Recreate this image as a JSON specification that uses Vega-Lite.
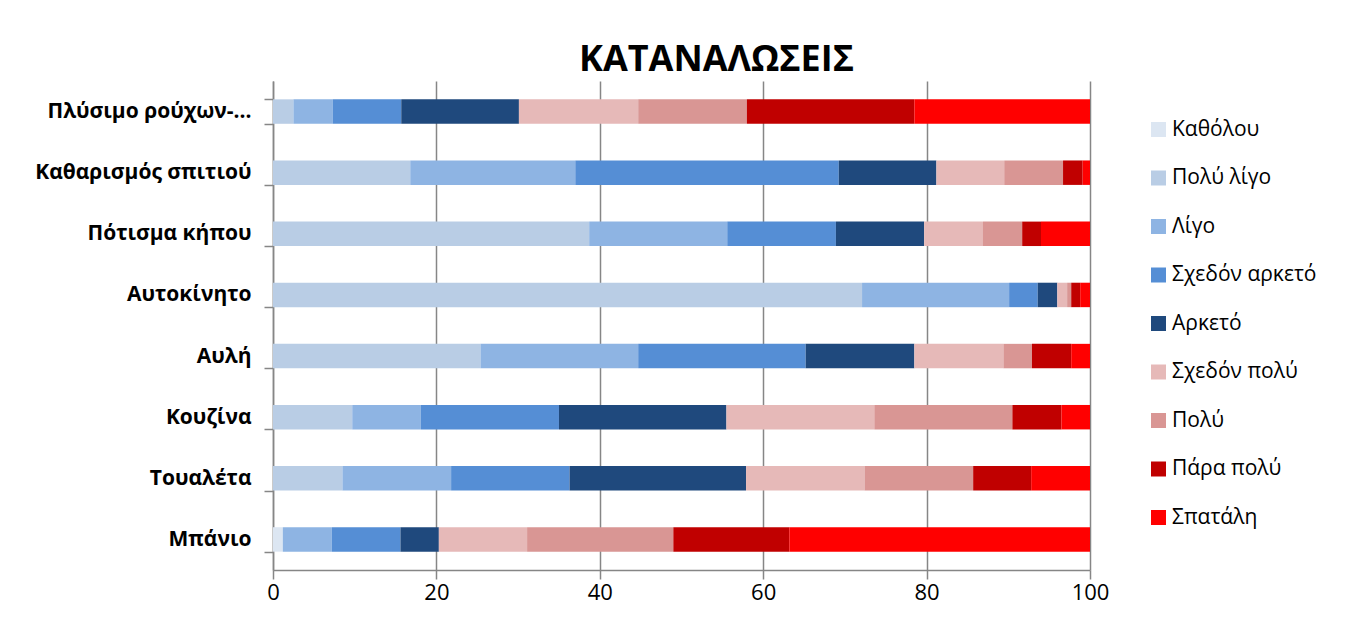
{
  "$schema": "https://vega.github.io/schema/vega-lite/v6.json",
  "width": 817,
  "height": 489,
  "autosize": {"type": "none"},
  "padding": {"left": 273, "top": 81, "right": 270, "bottom": 58},
  "background": "white",
  "title": {
    "text": "ΚΑΤΑΝΑΛΩΣΕΙΣ",
    "font": "Open Sans",
    "fontSize": 36,
    "fontWeight": "bold",
    "color": "#000000",
    "anchor": "middle",
    "dx": 35,
    "offset": -9
  },
  "config": {
    "view": {"stroke": null},
    "font": "Open Sans"
  },
  "data": {
    "values": [
      {"cat": "Πλύσιμο ρούχων-...", "level": "Καθόλου", "v": 0},
      {"cat": "Πλύσιμο ρούχων-...", "level": "Πολύ λίγο", "v": 2.5},
      {"cat": "Πλύσιμο ρούχων-...", "level": "Λίγο", "v": 4.8},
      {"cat": "Πλύσιμο ρούχων-...", "level": "Σχεδόν αρκετό", "v": 8.4},
      {"cat": "Πλύσιμο ρούχων-...", "level": "Αρκετό", "v": 14.4},
      {"cat": "Πλύσιμο ρούχων-...", "level": "Σχεδόν πολύ", "v": 14.6},
      {"cat": "Πλύσιμο ρούχων-...", "level": "Πολύ", "v": 13.3},
      {"cat": "Πλύσιμο ρούχων-...", "level": "Πάρα πολύ", "v": 20.5},
      {"cat": "Πλύσιμο ρούχων-...", "level": "Σπατάλη", "v": 21.5},

      {"cat": "Καθαρισμός σπιτιού", "level": "Καθόλου", "v": 0},
      {"cat": "Καθαρισμός σπιτιού", "level": "Πολύ λίγο", "v": 16.8},
      {"cat": "Καθαρισμός σπιτιού", "level": "Λίγο", "v": 20.2},
      {"cat": "Καθαρισμός σπιτιού", "level": "Σχεδόν αρκετό", "v": 32.25},
      {"cat": "Καθαρισμός σπιτιού", "level": "Αρκετό", "v": 11.95},
      {"cat": "Καθαρισμός σπιτιού", "level": "Σχεδόν πολύ", "v": 8.3},
      {"cat": "Καθαρισμός σπιτιού", "level": "Πολύ", "v": 7.2},
      {"cat": "Καθαρισμός σπιτιού", "level": "Πάρα πολύ", "v": 2.4},
      {"cat": "Καθαρισμός σπιτιού", "level": "Σπατάλη", "v": 0.9},

      {"cat": "Πότισμα κήπου", "level": "Καθόλου", "v": 0},
      {"cat": "Πότισμα κήπου", "level": "Πολύ λίγο", "v": 38.7},
      {"cat": "Πότισμα κήπου", "level": "Λίγο", "v": 16.9},
      {"cat": "Πότισμα κήπου", "level": "Σχεδόν αρκετό", "v": 13.3},
      {"cat": "Πότισμα κήπου", "level": "Αρκετό", "v": 10.8},
      {"cat": "Πότισμα κήπου", "level": "Σχεδόν πολύ", "v": 7.2},
      {"cat": "Πότισμα κήπου", "level": "Πολύ", "v": 4.8},
      {"cat": "Πότισμα κήπου", "level": "Πάρα πολύ", "v": 2.3},
      {"cat": "Πότισμα κήπου", "level": "Σπατάλη", "v": 6.0},

      {"cat": "Αυτοκίνητο", "level": "Καθόλου", "v": 0},
      {"cat": "Αυτοκίνητο", "level": "Πολύ λίγο", "v": 72.1},
      {"cat": "Αυτοκίνητο", "level": "Λίγο", "v": 18.0},
      {"cat": "Αυτοκίνητο", "level": "Σχεδόν αρκετό", "v": 3.5},
      {"cat": "Αυτοκίνητο", "level": "Αρκετό", "v": 2.4},
      {"cat": "Αυτοκίνητο", "level": "Σχεδόν πολύ", "v": 1.2},
      {"cat": "Αυτοκίνητο", "level": "Πολύ", "v": 0.5},
      {"cat": "Αυτοκίνητο", "level": "Πάρα πολύ", "v": 1.1},
      {"cat": "Αυτοκίνητο", "level": "Σπατάλη", "v": 1.2},

      {"cat": "Αυλή", "level": "Καθόλου", "v": 0},
      {"cat": "Αυλή", "level": "Πολύ λίγο", "v": 25.4},
      {"cat": "Αυλή", "level": "Λίγο", "v": 19.3},
      {"cat": "Αυλή", "level": "Σχεδόν αρκετό", "v": 20.5},
      {"cat": "Αυλή", "level": "Αρκετό", "v": 13.3},
      {"cat": "Αυλή", "level": "Σχεδόν πολύ", "v": 10.9},
      {"cat": "Αυλή", "level": "Πολύ", "v": 3.5},
      {"cat": "Αυλή", "level": "Πάρα πολύ", "v": 4.8},
      {"cat": "Αυλή", "level": "Σπατάλη", "v": 2.3},

      {"cat": "Κουζίνα", "level": "Καθόλου", "v": 0},
      {"cat": "Κουζίνα", "level": "Πολύ λίγο", "v": 9.7},
      {"cat": "Κουζίνα", "level": "Λίγο", "v": 8.4},
      {"cat": "Κουζίνα", "level": "Σχεδόν αρκετό", "v": 16.9},
      {"cat": "Κουζίνα", "level": "Αρκετό", "v": 20.5},
      {"cat": "Κουζίνα", "level": "Σχεδόν πολύ", "v": 18.1},
      {"cat": "Κουζίνα", "level": "Πολύ", "v": 16.9},
      {"cat": "Κουζίνα", "level": "Πάρα πολύ", "v": 6.0},
      {"cat": "Κουζίνα", "level": "Σπατάλη", "v": 3.5},

      {"cat": "Τουαλέτα", "level": "Καθόλου", "v": 0},
      {"cat": "Τουαλέτα", "level": "Πολύ λίγο", "v": 8.5},
      {"cat": "Τουαλέτα", "level": "Λίγο", "v": 13.3},
      {"cat": "Τουαλέτα", "level": "Σχεδόν αρκετό", "v": 14.5},
      {"cat": "Τουαλέτα", "level": "Αρκετό", "v": 21.6},
      {"cat": "Τουαλέτα", "level": "Σχεδόν πολύ", "v": 14.5},
      {"cat": "Τουαλέτα", "level": "Πολύ", "v": 13.3},
      {"cat": "Τουαλέτα", "level": "Πάρα πολύ", "v": 7.1},
      {"cat": "Τουαλέτα", "level": "Σπατάλη", "v": 7.2},

      {"cat": "Μπάνιο", "level": "Καθόλου", "v": 1.2},
      {"cat": "Μπάνιο", "level": "Πολύ λίγο", "v": 0},
      {"cat": "Μπάνιο", "level": "Λίγο", "v": 6.0},
      {"cat": "Μπάνιο", "level": "Σχεδόν αρκετό", "v": 8.4},
      {"cat": "Μπάνιο", "level": "Αρκετό", "v": 4.7},
      {"cat": "Μπάνιο", "level": "Σχεδόν πολύ", "v": 10.8},
      {"cat": "Μπάνιο", "level": "Πολύ", "v": 17.9},
      {"cat": "Μπάνιο", "level": "Πάρα πολύ", "v": 14.2},
      {"cat": "Μπάνιο", "level": "Σπατάλη", "v": 36.8}
    ]
  },
  "transform": [
    {"calculate": "indexof(['Καθόλου', 'Πολύ λίγο', 'Λίγο', 'Σχεδόν αρκετό', 'Αρκετό', 'Σχεδόν πολύ', 'Πολύ', 'Πάρα πολύ', 'Σπατάλη'], datum.level)", "as": "levelOrder"}
  ],
  "mark": {"type": "bar"},
  "encoding": {
    "y": {
      "field": "cat",
      "type": "nominal",
      "sort": ["Πλύσιμο ρούχων-...", "Καθαρισμός σπιτιού", "Πότισμα κήπου", "Αυτοκίνητο", "Αυλή", "Κουζίνα", "Τουαλέτα", "Μπάνιο"],
      "scale": {"paddingInner": 0.6, "paddingOuter": 0.3},
      "axis": {
        "title": null,
        "domainColor": "#868686",
        "domainWidth": 1.5,
        "tickColor": "#868686",
        "tickWidth": 1.5,
        "tickSize": 9,
        "tickBand": "extent",
        "labelFont": "Open Sans",
        "labelFontSize": 21,
        "labelFontWeight": "bold",
        "labelColor": "#000000",
        "labelPadding": 13,
        "labelLimit": 300
      }
    },
    "x": {
      "field": "v",
      "type": "quantitative",
      "stack": "zero",
      "scale": {"domain": [0, 100], "nice": false},
      "axis": {
        "title": null,
        "values": [0, 20, 40, 60, 80, 100],
        "grid": true,
        "gridColor": "#868686",
        "gridWidth": 1.5,
        "domainColor": "#868686",
        "domainWidth": 1.5,
        "tickColor": "#868686",
        "tickWidth": 1.5,
        "tickSize": 9,
        "labelFont": "Open Sans",
        "labelFontSize": 22,
        "labelColor": "#000000",
        "labelPadding": 3,
        "labelFlush": false
      }
    },
    "order": {"field": "levelOrder", "type": "quantitative", "sort": "ascending"},
    "color": {
      "field": "level",
      "type": "nominal",
      "sort": ["Καθόλου", "Πολύ λίγο", "Λίγο", "Σχεδόν αρκετό", "Αρκετό", "Σχεδόν πολύ", "Πολύ", "Πάρα πολύ", "Σπατάλη"],
      "scale": {
        "domain": ["Καθόλου", "Πολύ λίγο", "Λίγο", "Σχεδόν αρκετό", "Αρκετό", "Σχεδόν πολύ", "Πολύ", "Πάρα πολύ", "Σπατάλη"],
        "range": ["#DCE6F2", "#B9CDE5", "#8EB4E3", "#558ED5", "#1F497D", "#E6B9B8", "#D99694", "#C00000", "#FF0000"]
      },
      "legend": {
        "title": null,
        "orient": "none",
        "legendX": 875,
        "legendY": 38,
        "padding": 0,
        "symbolType": "square",
        "symbolSize": 225,
        "symbolStrokeWidth": 0,
        "labelFont": "Open Sans",
        "labelFontSize": 21,
        "labelColor": "#000000",
        "labelOffset": 3,
        "rowPadding": 26.5,
        "labelLimit": 300
      }
    }
  }
}
